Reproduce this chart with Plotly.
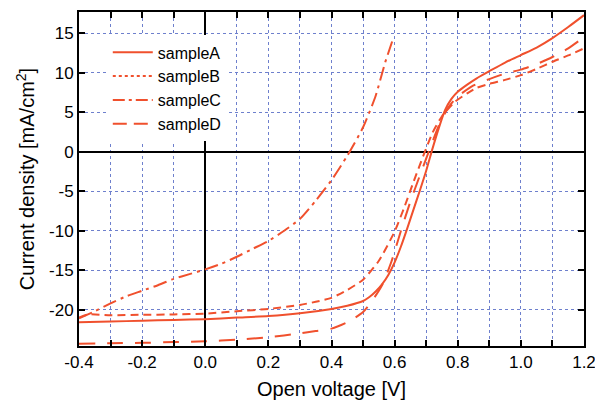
import plotly.graph_objects as go

# ---- data ----
a_x = [-0.4, -0.3, -0.2, -0.1, 0.0, 0.1, 0.2, 0.3, 0.4, 0.45, 0.5, 0.52, 0.54, 0.56, 0.58, 0.6, 0.62,
       0.64, 0.66, 0.68, 0.7, 0.72, 0.74, 0.76, 0.78, 0.8, 0.83, 0.86, 0.9, 0.95, 1.0, 1.05, 1.1,
       1.15, 1.2]
a_y = [-21.6, -21.5, -21.4, -21.3, -21.2, -21.0, -20.8, -20.45, -19.9, -19.5, -18.9, -18.4, -17.7,
       -16.8, -15.6, -14.0, -12.0, -9.7, -7.3, -4.9, -2.4, 0.4, 3.0, 5.3, 6.7, 7.6, 8.5, 9.3, 10.2,
       11.3, 12.25, 13.2, 14.4, 15.8, 17.3]

b_x = [-0.4, -0.37, -0.3, -0.2, -0.1, 0.0, 0.1, 0.2, 0.3, 0.35, 0.4, 0.45, 0.5, 0.55, 0.6, 0.63,
       0.66, 0.69, 0.72, 0.75, 0.79, 0.83, 0.86, 0.9, 0.95, 1.0, 1.05, 1.1, 1.15, 1.2]
b_y = [-21.0, -20.6, -20.7, -20.65, -20.6, -20.5, -20.2, -19.9, -19.4, -19.0, -18.5, -17.5, -16.2,
       -13.8, -10.1, -7.1, -3.8, -0.6, 2.4, 4.5, 6.3, 7.4, 8.1, 8.6, 9.1, 9.7, 10.5, 11.4, 12.2, 13.1]

c_x = [-0.4, -0.35, -0.3, -0.25, -0.2, -0.15, -0.1, -0.05, 0.0, 0.05, 0.1, 0.15, 0.2, 0.25, 0.3,
       0.35, 0.4, 0.45, 0.5, 0.54, 0.57, 0.595]
c_y = [-21.1, -20.2, -19.2, -18.3, -17.6, -16.9, -16.1, -15.5, -14.9, -14.2, -13.3, -12.3, -11.3,
       -10.0, -8.5, -6.2, -3.6, -0.5, 3.1, 7.1, 11.3, 14.3]

d_x = [-0.4, -0.3, -0.2, -0.1, 0.0, 0.1, 0.2, 0.3, 0.35, 0.4, 0.45, 0.5, 0.53, 0.56, 0.59, 0.62,
       0.65, 0.68, 0.71, 0.74, 0.77, 0.8, 0.85, 0.9, 0.95, 1.0, 1.05, 1.1, 1.15, 1.2]
d_y = [-24.3, -24.25, -24.2, -24.1, -24.0, -23.8, -23.5, -23.0, -22.7, -22.4, -21.6, -20.3, -18.8,
       -16.9, -13.9, -10.0, -6.3, -3.0, 0.2, 3.3, 5.6, 7.0, 8.4, 9.2, 9.9, 10.4, 11.1, 12.0, 13.1, 14.5]

series_names = ["sampleA", "sampleB", "sampleC", "sampleD"]

x_ticks = [-0.4, -0.2, 0.0, 0.2, 0.4, 0.6, 0.8, 1.0, 1.2]
x_tick_labels = ["-0.4", "-0.2", "0.0", "0.2", "0.4", "0.6", "0.8", "1.0", "1.2"]
y_ticks = [-20, -15, -10, -5, 0, 5, 10, 15]
y_tick_labels = ["-20", "-15", "-10", "-5", "0", "5", "10", "15"]

# ---- styles ----
COLOR = "#F0502D"
GRID = "rgb(110,128,205)"
FONT = "Liberation Sans, Arial, Helvetica, sans-serif"

curve_dash = ["solid", "8px,5px", "14px,5px,3px,5px", "16px,12px"]
legend_dash = ["solid", "3px,3px", "12px,4px,3px,4px", "14px,7px"]

fig = go.Figure()
data = [(a_x, a_y), (b_x, b_y), (c_x, c_y), (d_x, d_y)]
for (xs, ys), dash in zip(data, curve_dash):
    fig.add_trace(go.Scatter(x=xs, y=ys, mode="lines", showlegend=False, hoverinfo="skip",
                             line=dict(color=COLOR, width=2, dash=dash, shape="spline",
                                       smoothing=0.6)))
for name, dash in zip(series_names, legend_dash):
    fig.add_trace(go.Scatter(x=[None], y=[None], mode="lines", name=name,
                             line=dict(color=COLOR, width=2, dash=dash)))

axis_common = dict(
    automargin=False, ticklabeloverflow="allow",
    showline=True, linecolor="black", linewidth=2, mirror="allticks",
    ticks="inside", ticklen=6, tickwidth=2, tickcolor="black",
    showgrid=True, gridcolor=GRID, gridwidth=1, griddash="dot",
    zeroline=True, zerolinecolor="black", zerolinewidth=2,
    tickfont=dict(family=FONT, size=17, color="black"),
)

fig.update_xaxes(
    range=[-0.4, 1.2], tickmode="array", tickvals=x_ticks, ticktext=x_tick_labels,
    minor=dict(tickmode="linear", tick0=-0.4, dtick=0.1, ticks="inside", ticklen=6,
               tickwidth=2, tickcolor="black", showgrid=True, gridcolor=GRID,
               gridwidth=1, griddash="dot"),
    title=dict(text="Open voltage [V]", font=dict(family=FONT, size=20, color="black"),
               standoff=11),
    **axis_common,
)
fig.update_yaxes(
    range=[-24.6, 17.7], tickmode="array", tickvals=y_ticks, ticktext=y_tick_labels,
    title=dict(text="Current density [mA/cm<sup>2</sup>]",
               font=dict(family=FONT, size=20, color="black"), standoff=9),
    **axis_common,
)

fig.update_layout(
    width=595, height=401,
    margin=dict(l=79, r=11, t=12, b=55),
    paper_bgcolor="white", plot_bgcolor="white",
    font=dict(family=FONT, color="black"),
    legend=dict(x=0.057, y=0.93, xanchor="left", yanchor="top",
                bgcolor="white", borderwidth=0, itemwidth=40,
                font=dict(family=FONT, size=16, color="black")),
)

fig.write_html("out.html", config={"displayModeBar": False},
               post_script="document.body.style.margin='0';document.body.style.overflow='hidden';")
